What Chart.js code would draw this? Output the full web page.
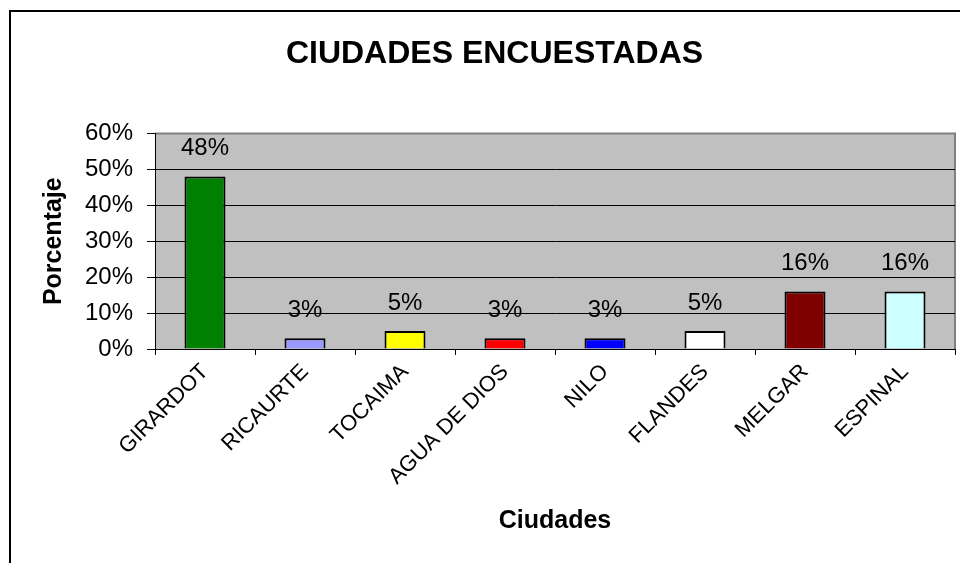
<!DOCTYPE html>
<html>
<head>
<meta charset="utf-8">
<script src="https://cdn.jsdelivr.net/npm/chart.js@4"></script>
<style>
  html, body { margin: 0; padding: 0; background: #fff; overflow: hidden; }
  #wrap { position: relative; width: 960px; height: 563px; }
  #frame { position: absolute; left: 9px; top: 10px; width: 1000px; height: 600px;
           border-left: 2px solid #000; border-top: 2px solid #000; }
  canvas { position: absolute; left: 0; top: 0; }
</style>
</head>
<body>
<div id="wrap">
  <div id="frame"></div>
  <canvas id="chart" width="960" height="563"></canvas>
</div>
<script>
const ciudades = ['GIRARDOT', 'RICAURTE', 'TOCAIMA', 'AGUA DE DIOS', 'NILO', 'FLANDES', 'MELGAR', 'ESPINAL'];
const porcentajes = [48, 3, 5, 3, 3, 5, 16, 16];
const colores = ['#008000', '#9999FF', '#FFFF00', '#FF0000', '#0000FF', '#FFFFFF', '#800000', '#CCFFFF'];
const yMin = 0, yMax = 60, yPaso = 10;

const FONT = 'Arial, "Liberation Sans", sans-serif';

// fondo gris del area de trazado
const fondoPlot = {
  id: 'fondoPlot',
  beforeDraw(chart) {
    const { ctx, chartArea: a } = chart;
    ctx.save();
    ctx.fillStyle = '#C0C0C0';
    ctx.fillRect(a.left, a.top, a.right - a.left, a.bottom - a.top);
    ctx.strokeStyle = '#808080';
    ctx.lineWidth = 2;
    ctx.beginPath();
    ctx.moveTo(a.left, a.top);
    ctx.lineTo(a.right, a.top);
    ctx.lineTo(a.right, a.bottom);
    ctx.stroke();
    ctx.restore();
  }
};

// etiquetas de valor encima de cada barra
const etiquetas = {
  id: 'etiquetas',
  afterDatasetsDraw(chart) {
    const { ctx } = chart;
    const meta = chart.getDatasetMeta(0);
    ctx.save();
    ctx.font = '24px ' + FONT;
    ctx.fillStyle = '#000';
    ctx.textAlign = 'center';
    ctx.textBaseline = 'middle';
    meta.data.forEach((bar, i) => {
      ctx.fillText(porcentajes[i] + '%', bar.x, bar.y - 28);
    });
    ctx.restore();
  }
};

new Chart(document.getElementById('chart'), {
  type: 'bar',
  data: {
    labels: ciudades,
    datasets: [{
      data: porcentajes,
      backgroundColor: colores,
      borderColor: '#000',
      borderWidth: 2,
      barPercentage: 0.41,
      categoryPercentage: 1
    }]
  },
  options: {
    responsive: false,
    animation: false,
    layout: { padding: { left: 34, right: 5, top: 0, bottom: 0 } },
    plugins: {
      legend: { display: false },
      tooltip: { enabled: false },
      title: {
        display: true,
        text: 'CIUDADES ENCUESTADAS',
        color: '#000',
        font: { family: FONT, size: 32, weight: 'bold' },
        padding: { top: 35, bottom: 60 }
      }
    },
    scales: {
      x: {
        grid: { display: true, drawOnChartArea: false, drawTicks: true, tickLength: 6, color: '#000', offset: true },
        border: { display: true, color: '#000', width: 1 },
        ticks: {
          color: '#000', font: { family: FONT, size: 22 },
          minRotation: 45, maxRotation: 45, autoSkip: false, padding: 4
        },
        title: {
          display: true, text: 'Ciudades', color: '#000',
          font: { family: FONT, size: 25, weight: 'bold' },
          padding: { top: 0, bottom: 27 }
        },
        afterFit(scale) { scale.height = 214; }
      },
      y: {
        min: yMin, max: yMax,
        grid: {
          color: (c) => c.tick && c.tick.value === yMax ? 'rgba(0,0,0,0)' : '#000',
          tickColor: '#000', tickLength: 8, lineWidth: 1
        },
        border: { display: true, color: '#000', width: 1 },
        ticks: {
          stepSize: yPaso, color: '#000', padding: 14,
          font: { family: FONT, size: 24 },
          callback: (v) => v + '%'
        },
        title: {
          display: true, text: 'Porcentaje', color: '#000',
          font: { family: FONT, size: 25, weight: 'bold' },
          padding: { top: 5, bottom: 0 }
        },
        afterFit(scale) { scale.width = 121; }
      }
    }
  },
  plugins: [fondoPlot, etiquetas]
});
</script>
</body>
</html>
